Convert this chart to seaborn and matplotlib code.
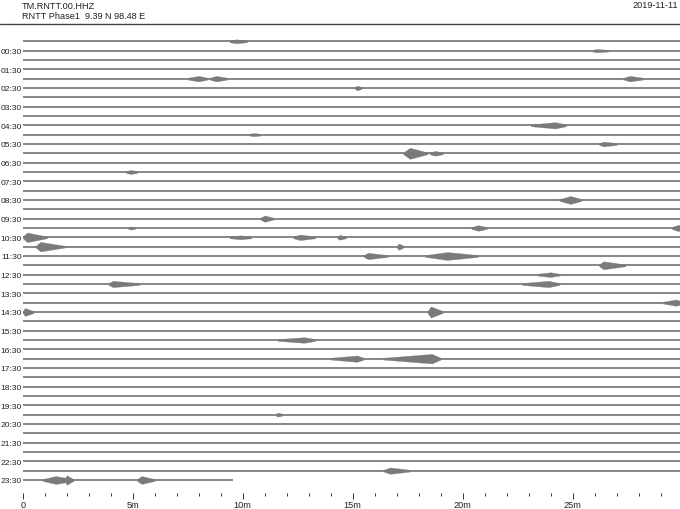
import numpy as np
import pandas as pd
import seaborn as sns
import matplotlib.pyplot as plt
from matplotlib.lines import Line2D
from matplotlib.ticker import MultipleLocator

STATION = "TM.RNTT.00.HHZ"
SUBTITLE = "RNTT Phase1  9.39 N 98.48 E"
DAY = "2019-11-11"

N_ROWS = 48                       # one line per 30 minutes
ROW_MINUTES = 30
LAST_ROW_END = 9.55               # data stops here on the last line
ROW_LABELS = [f"{h:02d}:30" for h in range(24)]   # shown on every other line
XTICK_MIN = [0, 5, 10, 15, 20, 25]
XTICK_LABELS = ["0", "5m", "10m", "15m", "20m", "25m"]

NOISE_AMP = 1.15                  # background amplitude (relative units)

# events: line index, onset, peak, end (minutes), amplitude (relative)
EV_ROW = [0, 1, 4, 4, 4, 5, 9, 10, 11, 12, 12, 14, 17, 19, 20, 20, 20,
          21, 21, 21, 21, 22, 22, 23, 23, 24, 25, 26, 26, 28, 29, 29,
          32, 34, 34, 40, 46, 47, 47, 47]
EV_START = [9.4, 25.9, 7.5, 8.5, 27.3, 15.1, 23.1, 10.3, 26.2, 17.3, 18.5, 4.7, 24.4, 10.8, 4.8, 20.4, 29.5,
            0.0, 9.4, 12.3, 14.3, 0.6, 17.0, 15.5, 18.3, 26.2, 23.4, 3.9, 22.7, 29.1, 0.0, 18.4,
            11.6, 14.0, 16.4, 11.5, 16.4, 0.9, 1.9, 5.2]
EV_PEAK = [9.7, 26.1, 8.0, 8.8, 27.6, 15.2, 24.2, 10.5, 26.4, 17.6, 18.75, 4.9, 24.9, 11.0, 4.9, 20.7, 29.8,
           0.2, 9.9, 12.6, 14.4, 0.8, 17.1, 15.7, 19.3, 26.4, 24.0, 4.1, 23.9, 29.7, 0.1, 18.55,
           12.8, 15.2, 18.6, 11.6, 16.7, 1.5, 2.0, 5.4]
EV_END = [10.2, 26.6, 8.4, 9.3, 28.2, 15.4, 24.7, 10.8, 27.0, 18.4, 19.1, 5.2, 25.4, 11.4, 5.1, 21.1, 30.0,
          1.1, 10.4, 13.3, 14.7, 1.9, 17.3, 16.6, 20.7, 27.4, 24.4, 5.3, 24.4, 30.0, 0.5, 19.1,
          13.3, 15.5, 19.0, 11.8, 17.6, 2.3, 2.3, 6.0]
EV_AMP = [2.5, 2.0, 3.5, 3.5, 3.5, 3.0, 4.0, 2.0, 3.0, 7.0, 3.0, 2.5, 5.0, 4.0, 2.0, 3.5, 4.0,
          6.0, 2.5, 3.5, 3.0, 6.0, 4.0, 4.0, 5.0, 5.0, 3.0, 4.0, 4.0, 4.0, 5.0, 7.0,
          3.5, 4.0, 6.0, 2.5, 4.0, 5.0, 6.0, 5.0]

TRACE_COLOR = "#8a8a8a"
BURST_COLOR = "#7a7a7a"
SCALE = 0.085                     # row units per relative amplitude unit

sns.set_theme(style="white", context="paper")
plt.rcParams['font.family'] = ['Liberation Sans', 'DejaVu Sans']

rows = pd.DataFrame({"row": np.arange(N_ROWS)})
rows["end"] = ROW_MINUTES
rows.loc[rows["row"] == N_ROWS - 1, "end"] = LAST_ROW_END

events = pd.DataFrame({"row": EV_ROW, "start": EV_START, "peak": EV_PEAK,
                       "end": EV_END, "amp": EV_AMP})

fig = plt.figure(figsize=(6.8, 5.1), dpi=100)
W, H = 680, 510
ax = fig.add_axes([22.7 / W, 1 - 494 / H, 660 / W, (494 - 25) / H])

# background trace of each line
for _, r in rows.iterrows():
    a = NOISE_AMP * SCALE
    ax.fill_between([0, r["end"]], r["row"] - a, r["row"] + a,
                    color=TRACE_COLOR, linewidth=0)

# bursts
for _, e in events.iterrows():
    amps = np.array([NOISE_AMP, e["amp"], NOISE_AMP]) * SCALE
    xs = [e["start"], e["peak"], e["end"]]
    ax.fill_between(xs, e["row"] - amps, e["row"] + amps,
                    color=BURST_COLOR, linewidth=0.2, edgecolor=BURST_COLOR)

ax.set_xlim(0, 30)
ax.set_ylim(47 + 13 / 9.33, -17.3 / 9.33)

ax.set_xticks(XTICK_MIN)
ax.set_xticklabels(XTICK_LABELS)
ax.xaxis.set_minor_locator(MultipleLocator(1))
ax.set_yticks(np.arange(1, N_ROWS, 2))
ax.set_yticklabels(ROW_LABELS)

ax.tick_params(axis="x", which="major", direction="out", length=4.3, width=0.7,
               color="#333333", labelsize=6.6, pad=1, bottom=True)
ax.tick_params(axis="x", which="minor", direction="out", length=2.2, width=0.7,
               color="#333333", bottom=True)
ax.tick_params(axis="y", length=0, labelsize=6.1, pad=0.8)
for lab in ax.get_xticklabels() + ax.get_yticklabels():
    lab.set_color("#222222")

sns.despine(ax=ax, left=True, bottom=True, top=True, right=True)
ax.grid(False)

# header
fig.add_artist(Line2D([0, 1], [1 - 25 / H, 1 - 25 / H], color="#444444", linewidth=1.0))
fig.text(22 / W, 1 - 6.5 / H, STATION, fontsize=6.6, va="center", ha="left", color="#222222")
fig.text(22 / W, 1 - 16.5 / H, SUBTITLE, fontsize=6.6, va="center", ha="left", color="#222222")
fig.text(678 / W, 1 - 5.5 / H, DAY, fontsize=6.6, va="center", ha="right", color="#222222")

fig.savefig("out.png", dpi=100)
